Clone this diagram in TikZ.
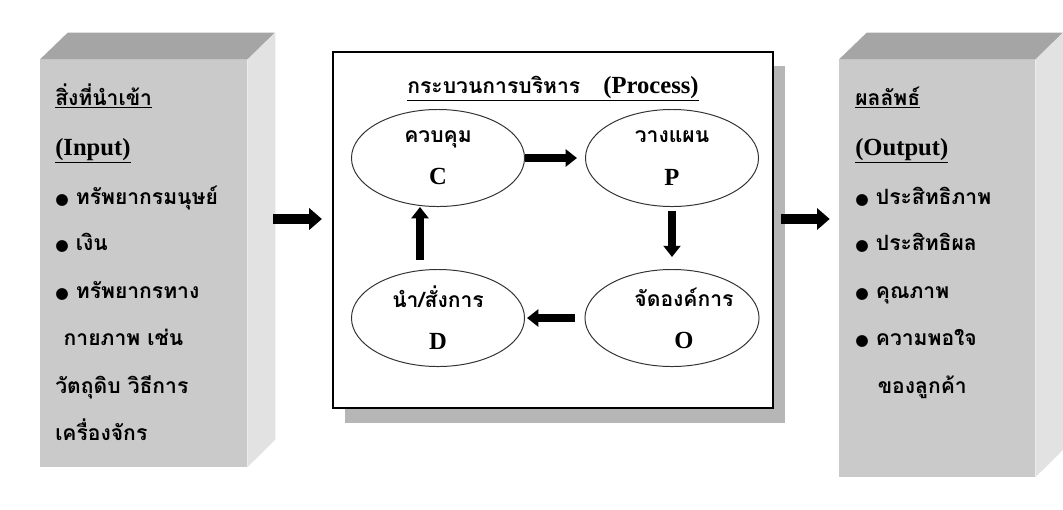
\documentclass[tikz,border=0pt]{standalone}
\usepackage{fontspec}
\setmainfont{Liberation Serif}
\newfontfamily\thaifont[Script=Thai]{Loma}
\newfontfamily\symfont{DejaVu Sans}
\usetikzlibrary{shapes.geometric,arrows.meta,positioning}

\definecolor{facegray}{RGB}{202,202,202}
\definecolor{topgray}{RGB}{165,165,165}
\definecolor{sidegray}{RGB}{226,226,226}
\definecolor{shadowgray}{RGB}{182,182,182}

\newcommand{\blt}{{\symfont\fontsize{11}{11}\selectfont ●}\ }
\newcommand{\latin}[1]{{\rmfamily\bfseries\fontsize{17.5}{20}\selectfont #1}}

\tikzset{
  face/.style={rectangle, fill=facegray, inner sep=0pt},
  boxtext/.style={anchor=base west, inner sep=0pt, font=\thaifont\bfseries\fontsize{15}{18}\selectfont},
  phase/.style={ellipse, draw=black!80, line width=0.7pt, fill=white, inner sep=0pt,
    minimum width=4.325cm, minimum height=2.425cm, align=center,
    font=\thaifont\bfseries\fontsize{15}{18}\selectfont},
  bigarrow/.style={line width=7pt, -{Triangle[width=15pt,length=9pt]}},
  smallarrow/.style={line width=5pt, -{Triangle[width=12pt,length=8pt]}},
}

\begin{document}
\begin{tikzpicture}[x=0.025cm,y=-0.025cm]
  \useasboundingbox (0,0) rectangle (1063,509);

  % input box
  \node[face, minimum width=5.175cm, minimum height=10.175cm] (inbox) at (143.5,263.5) {};
  \fill[topgray] (inbox.north west) -- ++(28,-27) -- ++(207,0) -- (inbox.north east) -- cycle;
  \fill[sidegray] (inbox.north east) -- ++(28,-27) -- ++(0,407) -- (inbox.south east) -- cycle;
  \foreach \y/\txt [count=\i] in {
      105/{\underline{สิ่งที่นำเข้า}},
      155/{\underline{\latin{(Input)}}},
      204/{\blt ทรัพยากรมนุษย์},
      250/{\blt เงิน},
      298/{\blt ทรัพยากรทาง},
      345/{\hspace{6pt}กายภาพ เช่น},
      393/{วัตถุดิบ วิธีการ},
      440/{เครื่องจักร}}
    \node[boxtext] (in\i) at (55,\y) {\txt};

  % process box
  \fill[shadowgray] (345,66) rectangle (785,423);
  \node[draw, line width=1.5pt, fill=white, minimum width=11cm, minimum height=8.9cm] (proc) at (553,230) {};
  \node[font=\fontsize{15}{18}\selectfont, below=0.5cm of proc.north] (title)
    {\underline{{\thaifont\bfseries กระบวนการบริหาร}\hspace{1.1em}\latin{(Process)}}};

  \node[phase] (C) at (438,158) {ควบคุม\\[12pt]\latin{C}};
  \node[phase] (P) at (672,158) {วางแผน\\[12pt]\latin{P}};
  \node[phase] (O) at (672,318) {\hspace{0.6cm}จัดองค์การ\\[12pt]\hspace{0.6cm}\latin{O}};
  \node[phase] (D) at (438,318) {นำ/สั่งการ\\[12pt]\latin{D}};

  \draw[smallarrow, shorten >=0.2cm] (C) -- (P);
  \draw[smallarrow, shorten <=0.1cm, shorten >=0.3cm] (P) -- (O);
  \draw[smallarrow, shorten <=0.225cm, shorten >=0.05cm] (O) -- (D);
  \draw[smallarrow, shorten <=0.225cm] ([xshift=-0.45cm]D.north) -- ([xshift=-0.45cm]C.south);

  % output box
  \node[face, minimum width=4.9cm, minimum height=10.425cm] (outbox) at (937,268.5) {};
  \fill[topgray] (outbox.north west) -- ++(28,-27) -- ++(196,0) -- (outbox.north east) -- cycle;
  \fill[sidegray] (outbox.north east) -- ++(28,-27) -- ++(0,417) -- (outbox.south east) -- cycle;
  \foreach \y/\txt [count=\i] in {
      105/{\underline{ผลลัพธ์}},
      155/{\underline{\latin{(Output)}}},
      204/{\blt ประสิทธิภาพ},
      250/{\blt ประสิทธิผล},
      298/{\blt คุณภาพ},
      345/{\blt ความพอใจ},
      393/{\hspace{16pt}ของลูกค้า}}
    \node[boxtext] (out\i) at (855,\y) {\txt};

  % flow between boxes
  \draw[bigarrow, shorten <=0.65cm, shorten >=0.25cm] (inbox.east |- 0,219) -- (proc.west |- 0,219);
  \draw[bigarrow, shorten <=0.175cm, shorten >=0.225cm] (proc.east |- 0,219) -- (outbox.west |- 0,219);
\end{tikzpicture}
\end{document}
